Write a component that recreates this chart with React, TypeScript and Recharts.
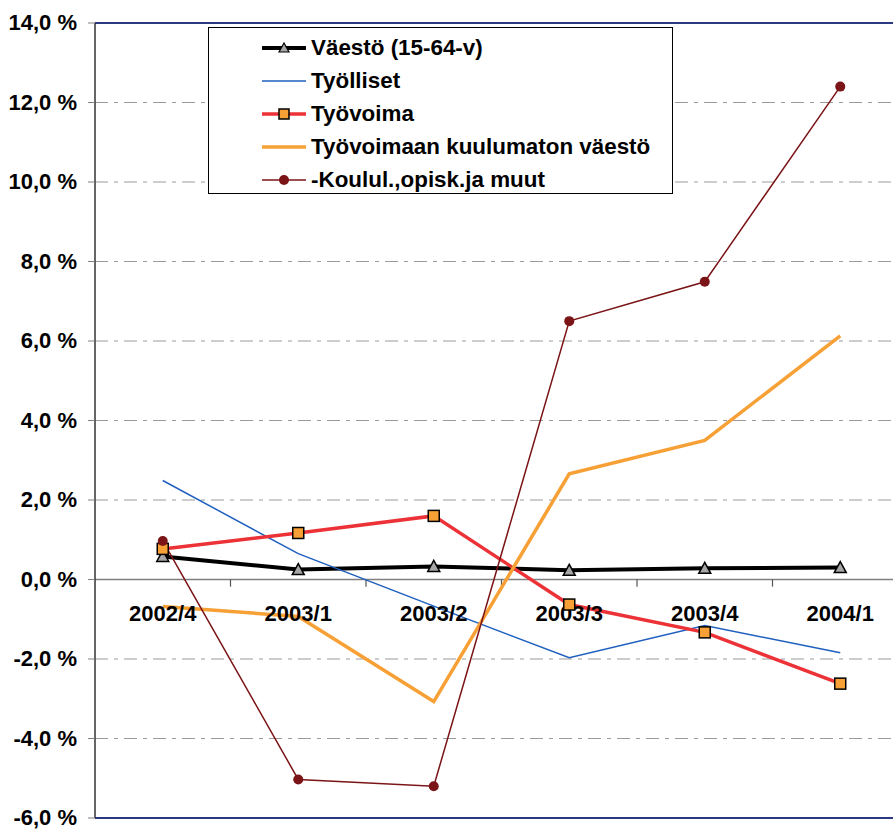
import React from 'react';
import { LineChart, Line, XAxis, YAxis, CartesianGrid, ReferenceLine, ReferenceDot } from 'recharts';

const categories = ['2002/4', '2003/1', '2003/2', '2003/3', '2003/4', '2004/1'];
const yTicks = [-6, -4, -2, 0, 2, 4, 6, 8, 10, 12, 14];

// percent change
const vaesto = [0.58, 0.25, 0.33, 0.23, 0.28, 0.3];
const tyolliset = [2.49, 0.65, -0.67, -1.97, -1.16, -1.84];
const tyovoima = [0.77, 1.17, 1.6, -0.63, -1.33, -2.62];
const kuulumaton = [-0.68, -0.93, -3.07, 2.66, 3.5, 6.13];
const koulul = [0.97, -5.03, -5.2, 6.5, 7.49, 12.4];

const data = categories.map((cat, i) => ({
  idx: i,
  cat,
  vaesto: vaesto[i],
  tyolliset: tyolliset[i],
  tyovoima: tyovoima[i],
  kuulumaton: kuulumaton[i],
  koulul: koulul[i],
}));

const FONT = '"Liberation Sans", Arial, sans-serif';

const TriangleDot = (props: any) => {
  const { cx, cy } = props;
  if (cx == null || cy == null) return null;
  return (
    <polygon
      key={`tri-${props.index}`}
      points={`${cx},${cy - 6} ${cx - 6},${cy + 5} ${cx + 6},${cy + 5}`}
      fill="#a6a6a6"
      stroke="#000"
      strokeWidth={1.5}
    />
  );
};

const SquareDot = (props: any) => {
  const { cx, cy } = props;
  if (cx == null || cy == null) return null;
  return (
    <rect key={`sq-${props.index}`} x={cx - 5.5} y={cy - 5.5} width={11} height={11} fill="#f7a035" stroke="#000" strokeWidth={1.5} />
  );
};

const CircleDot = (props: any) => {
  const { cx, cy } = props;
  if (cx == null || cy == null) return null;
  return <circle key={`ci-${props.index}`} cx={cx} cy={cy} r={5} fill="#7b1416" />;
};

const YTick = (props: any) => {
  const { x, y, payload } = props;
  const v = Number(payload.value);
  return (
    <text x={x} y={y} dy={7} textAnchor="end" fill="#000" fontSize={22} fontWeight="bold" fontFamily={FONT}>
      {`${v.toFixed(1).replace('.', ',')} %`}
    </text>
  );
};

const CatLabel = (props: any) => {
  const { viewBox, value } = props;
  if (!viewBox) return null;
  return (
    <text x={viewBox.x} y={viewBox.y} dy={41} textAnchor="middle" fill="#000" fontSize={22} fontWeight="bold" fontFamily={FONT}>
      {value}
    </text>
  );
};

const series = [
  { key: 'vaesto', name: 'Väestö (15-64-v)', color: '#000000', width: 4, marker: 'tri' },
  { key: 'tyolliset', name: 'Työlliset', color: '#1f5fbf', width: 1.5, marker: 'none' },
  { key: 'tyovoima', name: 'Työvoima', color: '#ec3237', width: 3.5, marker: 'sq' },
  { key: 'kuulumaton', name: 'Työvoimaan kuulumaton väestö', color: '#f7a035', width: 3.5, marker: 'none' },
  { key: 'koulul', name: '-Koulul.,opisk.ja muut', color: '#7b1416', width: 1.5, marker: 'ci' },
];

const dotFor = (m: string) => {
  if (m === 'tri') return <TriangleDot />;
  if (m === 'sq') return <SquareDot />;
  if (m === 'ci') return <CircleDot />;
  return false;
};

const LegendBox = () => (
  <div
    style={{
      position: 'absolute',
      left: 208,
      top: 27,
      width: 465,
      height: 167,
      border: '1.5px solid #000',
      background: '#fff',
      boxSizing: 'border-box',
      fontFamily: FONT,
      fontWeight: 'bold',
      fontSize: 22.4,
      paddingTop: 3,
    }}
  >
    {series.map((s) => (
      <div key={s.key} style={{ display: 'flex', alignItems: 'center', height: 33 }}>
        <svg width={44} height={14} style={{ marginLeft: 53, marginRight: 5 }}>
          <line x1={0} y1={7} x2={44} y2={7} stroke={s.color} strokeWidth={s.width} />
          {s.marker === 'tri' && <polygon points="22,2 17,11 27,11" fill="#a6a6a6" stroke="#000" strokeWidth={1.2} />}
          {s.marker === 'sq' && <rect x={17} y={2} width={10} height={10} fill="#f7a035" stroke="#000" strokeWidth={1.5} />}
          {s.marker === 'ci' && <circle cx={22} cy={7} r={5} fill={s.color} />}
        </svg>
        <span>{s.name}</span>
      </div>
    ))}
  </div>
);

export default function App() {
  const plotRight = 908;
  const chartWidth = 930;
  return (
    <div style={{ position: 'fixed', left: 0, top: 0, width: 893, height: 829, overflow: 'hidden', background: '#fff' }}>
      <style>{'html, body { margin: 0; overflow: hidden; }'}</style>
      <LineChart
        width={chartWidth}
        height={829}
        data={data}
        margin={{ top: 23, right: chartWidth - plotRight, left: 0, bottom: 11 }}
        style={{ fontFamily: FONT }}
      >
        <CartesianGrid vertical={false} stroke="#9a9a9a" strokeDasharray="13 6 4 6" />
        <XAxis type="number" dataKey="idx" domain={[-0.5, 5.5]} hide />
        <YAxis
          domain={[-6, 14]}
          ticks={yTicks}
          width={95}
          interval={0}
          tick={<YTick />}
          tickSize={7}
          tickMargin={11}
          tickLine={{ stroke: '#808080' }}
          axisLine={{ stroke: '#333', strokeWidth: 1.5 }}
        />
        <ReferenceLine y={14} stroke="#2b3a80" strokeWidth={2} />
        <ReferenceLine y={-6} stroke="#2b3a80" strokeWidth={2} />
        <ReferenceLine y={0} stroke="#808080" strokeWidth={1.5} />
        {categories.slice(1).map((c, i) => (
          <ReferenceLine
            key={`b-${c}`}
            segment={[
              { x: i + 0.5, y: 0 },
              { x: i + 0.5, y: -0.18 },
            ]}
            stroke="#555"
            strokeWidth={1.2}
          />
        ))}
        {categories.map((c, i) => (
          <ReferenceDot
            key={`l-${c}`}
            x={i}
            y={0}
            r={0}
            fill="none"
            stroke="none"
            label={<CatLabel value={c} />}
          />
        ))}
        {series.map((s) => (
          <Line
            key={s.key}
            type="linear"
            dataKey={s.key}
            name={s.name}
            stroke={s.color}
            strokeWidth={s.width}
            dot={dotFor(s.marker)}
            activeDot={false}
            isAnimationActive={false}
          />
        ))}
      </LineChart>
      <LegendBox />
    </div>
  );
}
